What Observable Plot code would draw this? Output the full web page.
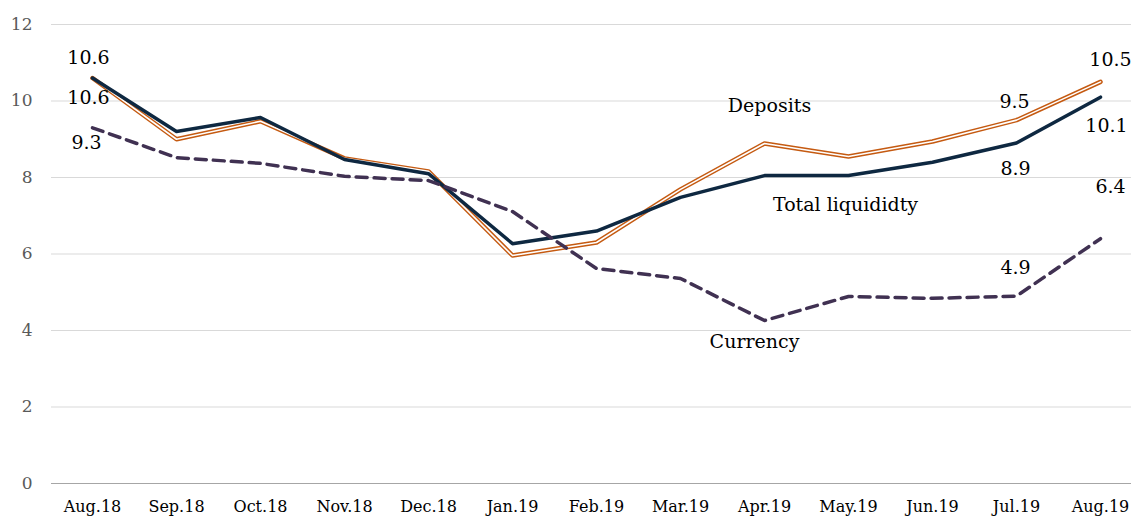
<!DOCTYPE html>
<html>
<head>
<meta charset="utf-8">
<script src="https://cdn.jsdelivr.net/npm/d3@7"></script>
<script src="https://cdn.jsdelivr.net/npm/@observablehq/plot@0.6"></script>
<style>
  html, body { margin: 0; padding: 0; background: #fff; }
  #chart svg { display: block; }
</style>
</head>
<body>
<div id="chart"></div>
<script>
const months = ["Aug.18","Sep.18","Oct.18","Nov.18","Dec.18","Jan.19","Feb.19","Mar.19","Apr.19","May.19","Jun.19","Jul.19","Aug.19"];
const totalLiquidity = [10.6, 9.2, 9.57, 8.47, 8.1, 6.27, 6.6, 7.48, 8.05, 8.05, 8.4, 8.9, 10.1];
const deposits = [10.6, 9.0, 9.47, 8.5, 8.16, 5.96, 6.3, 7.69, 8.89, 8.55, 8.94, 9.5, 10.5];
const currency = [9.3, 8.52, 8.37, 8.03, 7.92, 7.11, 5.62, 5.36, 4.26, 4.89, 4.84, 4.9, 6.4];
const yTicks = [0, 2, 4, 6, 8, 10, 12];

const rows = (vals) => months.map((m, i) => ({month: m, value: vals[i]}));
const dep = rows(deposits), tot = rows(totalLiquidity), cur = rows(currency);
const pt = (data, i) => [{month: data[i].month, value: data[i].value, label: data[i].value.toFixed(1)}];
const font = "'DejaVu Serif', 'Liberation Serif', serif";

const chart = Plot.plot({
  width: 1131,
  height: 518,
  marginLeft: 51,
  marginRight: 0,
  marginTop: 24,
  marginBottom: 35,
  style: {fontFamily: font, fontSize: "16px", background: "#fff"},
  x: {type: "point", domain: months, range: [87, 1105], padding: 0, label: null},
  y: {domain: [0, 12], label: null},
  marks: [
    Plot.ruleY(yTicks.filter(d => d > 0), {stroke: "#d9d9d9", strokeWidth: 1}),
    Plot.ruleY([0], {stroke: "#a6a6a6", strokeWidth: 1}),
    Plot.axisY({ticks: yTicks, tickSize: 0, tickPadding: 19, fill: "#595959", fontSize: 17, label: null}),
    Plot.axisX({tickSize: 0, tickPadding: 17, fill: "#000", fontSize: 16, label: null}),
    // Deposits: double line
    Plot.line(dep, {x: "month", y: "value", stroke: "#c55a11", strokeWidth: 4.5}),
    Plot.line(dep, {x: "month", y: "value", stroke: "#fff", strokeWidth: 1.6}),
    // Total liquidity
    Plot.line(tot, {x: "month", y: "value", stroke: "#0e2841", strokeWidth: 3.5}),
    // Currency
    Plot.line(cur, {x: "month", y: "value", stroke: "#403152", strokeWidth: 3.5, strokeDasharray: "11,7"}),
    // Value labels
    Plot.text(pt(tot, 0), {x: "month", y: "value", text: "label", dy: -20, dx: -4, fontSize: 19}),
    Plot.text(pt(dep, 0), {x: "month", y: "value", text: "label", dy: 20, dx: -4, fontSize: 19}),
    Plot.text(pt(cur, 0), {x: "month", y: "value", text: "label", dy: 15, dx: -6, fontSize: 19}),
    Plot.text(pt(dep, 11), {x: "month", y: "value", text: "label", dy: -18, dx: -2, fontSize: 19}),
    Plot.text(pt(tot, 11), {x: "month", y: "value", text: "label", dy: 26, dx: -1, fontSize: 19}),
    Plot.text(pt(cur, 11), {x: "month", y: "value", text: "label", dy: -28, dx: -1, fontSize: 19}),
    Plot.text(pt(dep, 12), {x: "month", y: "value", text: "label", dy: -22, dx: 10, fontSize: 19}),
    Plot.text(pt(tot, 12), {x: "month", y: "value", text: "label", dy: 29, dx: 6, fontSize: 19}),
    Plot.text(pt(cur, 12), {x: "month", y: "value", text: "label", dy: -52, dx: 10, fontSize: 19}),
    // Series names
    Plot.text([{month: "Apr.19", value: 9.86, label: "Deposits"}], {x: "month", y: "value", text: "label", dx: 5, fontSize: 19}),
    Plot.text([{month: "May.19", value: 7.29, label: "Total liquididty"}], {x: "month", y: "value", text: "label", dx: -3, fontSize: 19}),
    Plot.text([{month: "Apr.19", value: 3.69, label: "Currency"}], {x: "month", y: "value", text: "label", dx: -10, fontSize: 19})
  ]
});
document.getElementById("chart").appendChild(chart);
</script>
</body>
</html>
